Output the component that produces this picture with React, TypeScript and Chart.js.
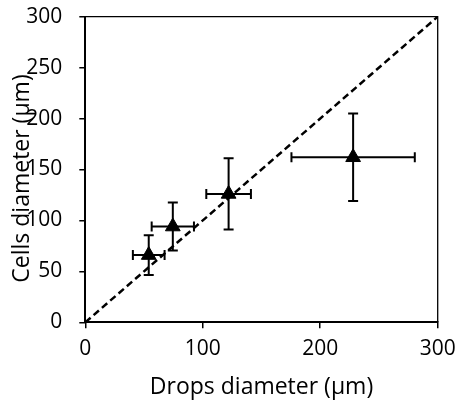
import React, { useEffect, useRef } from "react";
import { Chart, registerables } from "chart.js";

Chart.register(...registerables);

// ---- data ----
const dropsDiameter = [54, 74.5, 122, 228];
const cellsDiameter = [66, 94, 126, 162];
const dropsError = [13.5, 18, 19, 52.5];
const cellsError = [19.5, 23.5, 35, 43];
const identityLine = [0, 300];
const xTicksStep = 100;
const yTicksStep = 50;
const xTitle = "Drops diameter (µm)";
const yTitle = "Cells diameter (µm)";

const FONT = "'Open Sans', sans-serif";
const TICK_SIZE = 21;
const TITLE_SIZE = 23;

const errorBarsPlugin = {
  id: "errorBars",
  beforeDatasetsDraw(chart: any) {
    const xs = chart.scales.x;
    const ys = chart.scales.y;
    const ctx = chart.ctx;
    const cap = 5;
    ctx.save();
    ctx.strokeStyle = "#000";
    ctx.lineWidth = 2;
    for (let i = 0; i < dropsDiameter.length; i++) {
      const cx = xs.getPixelForValue(dropsDiameter[i]);
      const cy = ys.getPixelForValue(cellsDiameter[i]);
      const x0 = xs.getPixelForValue(dropsDiameter[i] - dropsError[i]);
      const x1 = xs.getPixelForValue(dropsDiameter[i] + dropsError[i]);
      const y0 = ys.getPixelForValue(cellsDiameter[i] - cellsError[i]);
      const y1 = ys.getPixelForValue(cellsDiameter[i] + cellsError[i]);
      ctx.beginPath();
      ctx.moveTo(x0, cy);
      ctx.lineTo(x1, cy);
      ctx.moveTo(x0, cy - cap);
      ctx.lineTo(x0, cy + cap);
      ctx.moveTo(x1, cy - cap);
      ctx.lineTo(x1, cy + cap);
      ctx.moveTo(cx, y0);
      ctx.lineTo(cx, y1);
      ctx.moveTo(cx - cap, y0);
      ctx.lineTo(cx + cap, y0);
      ctx.moveTo(cx - cap, y1);
      ctx.lineTo(cx + cap, y1);
      ctx.stroke();
    }
    ctx.restore();
  },
};

const framePlugin = {
  id: "frame",
  afterDraw(chart: any) {
    const { ctx, chartArea } = chart;
    ctx.save();
    ctx.strokeStyle = "#000";
    ctx.lineWidth = 1.3;
    ctx.beginPath();
    ctx.moveTo(chartArea.left, chartArea.top);
    ctx.lineTo(chartArea.right, chartArea.top);
    ctx.lineTo(chartArea.right, chartArea.bottom);
    ctx.stroke();
    ctx.restore();
  },
};

const yTitlePlugin = {
  id: "yTitle",
  afterDraw(chart: any) {
    const { ctx, chartArea } = chart;
    ctx.save();
    ctx.translate(22, (chartArea.top + chartArea.bottom) / 2 + 9);
    ctx.rotate(-Math.PI / 2);
    ctx.font = `${TITLE_SIZE}px ${FONT}`;
    ctx.fillStyle = "#000";
    ctx.textAlign = "center";
    ctx.textBaseline = "middle";
    ctx.fillText(yTitle, 0, 0);
    ctx.restore();
  },
};

const zeroPadding = (scale: any) => {
  scale.paddingLeft = 0;
  scale.paddingRight = 0;
  scale.paddingTop = 0;
  scale.paddingBottom = 0;
};

export default function App() {
  const canvasRef = useRef<HTMLCanvasElement | null>(null);

  useEffect(() => {
    if (!canvasRef.current) return;
    const chart = new Chart(canvasRef.current, {
      type: "scatter",
      data: {
        datasets: [
          {
            label: "Cells vs drops",
            data: dropsDiameter.map((x, i) => ({ x, y: cellsDiameter[i] })),
            pointStyle: "triangle",
            pointRadius: 8.5,
            pointHoverRadius: 8.5,
            backgroundColor: "#000",
            borderColor: "#000",
            borderWidth: 1,
            showLine: false,
          },
          {
            label: "y = x",
            data: identityLine.map((v) => ({ x: v, y: v })),
            showLine: true,
            borderColor: "#000",
            borderWidth: 2.5,
            borderDash: [7, 4],
            pointRadius: 0,
            pointHoverRadius: 0,
            fill: false,
          },
        ],
      },
      options: {
        animation: false,
        responsive: true,
        maintainAspectRatio: false,
        layout: { padding: { top: 16.7, right: 19.3, left: 0, bottom: 0 } },
        plugins: {
          legend: { display: false },
          tooltip: { enabled: false },
        },
        scales: {
          x: {
            type: "linear",
            min: 0,
            max: 300,
            afterFit: (scale: any) => {
              scale.height = 86.7;
              zeroPadding(scale);
            },
            ticks: {
              stepSize: xTicksStep,
              color: "#000",
              padding: 8,
              font: { family: FONT, size: TICK_SIZE },
            },
            grid: {
              display: true,
              drawOnChartArea: false,
              drawTicks: true,
              tickLength: 6,
              color: "#000",
              lineWidth: 1.5,
            },
            border: { display: true, color: "#000", width: 2 },
            title: {
              display: true,
              text: xTitle,
              color: "#000",
              padding: { top: 0, bottom: 8 },
              font: { family: FONT, size: TITLE_SIZE },
            },
          },
          y: {
            type: "linear",
            min: 0,
            max: 300,
            afterFit: (scale: any) => {
              scale.width = 85.3;
              zeroPadding(scale);
            },
            ticks: {
              stepSize: yTicksStep,
              color: "#000",
              padding: 17,
              font: { family: FONT, size: TICK_SIZE },
            },
            grid: {
              display: true,
              drawOnChartArea: false,
              drawTicks: true,
              tickLength: 6,
              color: "#000",
              lineWidth: 1.5,
            },
            border: { display: true, color: "#000", width: 2 },
          },
        },
      },
      plugins: [errorBarsPlugin, framePlugin, yTitlePlugin],
    } as any);
    return () => chart.destroy();
  }, []);

  return (
    <div
      style={{
        position: "fixed",
        left: 0,
        top: 0,
        width: 457,
        height: 409,
        background: "#fff",
      }}
    >
      <canvas ref={canvasRef} />
    </div>
  );
}
